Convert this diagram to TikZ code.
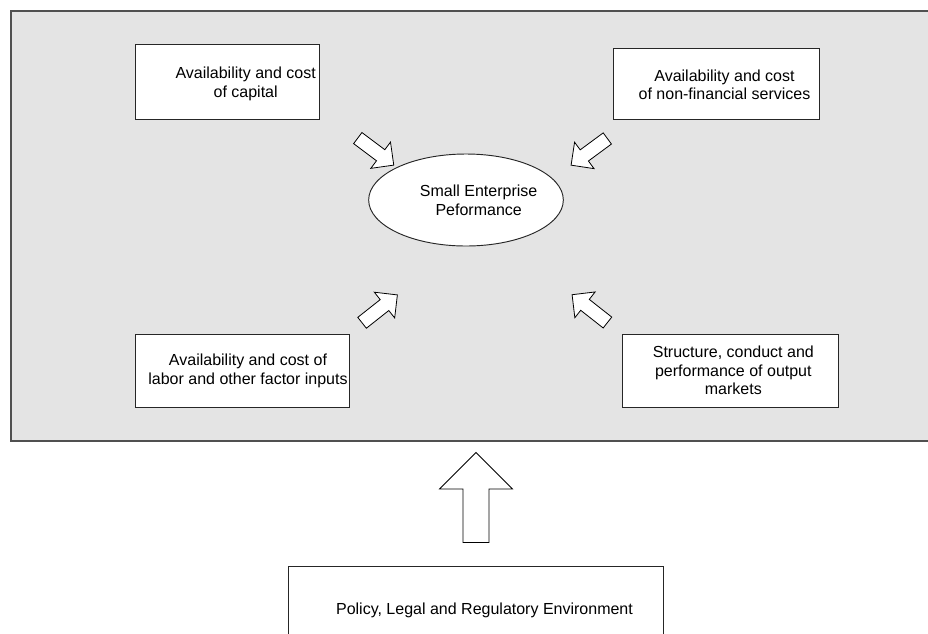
\documentclass[tikz,border=0pt]{standalone}
\usepackage{fontspec}
\setmainfont{Liberation Sans}
\usetikzlibrary{shapes.geometric, shapes.arrows, positioning}
\definecolor{panelgray}{RGB}{228, 228, 228}
\definecolor{framegray}{RGB}{80, 80, 80}

\tikzset{
  factor/.style={draw=black!85, fill=white, line width=0.7pt, inner sep=0pt},
  factortext/.style={align=center, font=\fontsize{12}{14}\selectfont},
  flowarrow/.style={draw=black, fill=white, line width=0.6pt, single arrow,
    single arrow head extend=7.1pt, inner xsep=0pt, inner ysep=4.9pt,
    minimum width=0pt, minimum height=33.75pt},
}

\begin{document}
\begin{tikzpicture}[x=0.75pt, y=-0.75pt]
  \path[use as bounding box, clip] (0,0) rectangle (928,633);
  \fill[white] (0,0) rectangle (928,633);

  % environment around the enterprise
  \draw[draw=framegray, fill=panelgray, line width=1.2pt] (11,11) rectangle (940,441);

  \node[factor, minimum width=138pt, minimum height=56.25pt,
    label={[factortext, xshift=14pt, yshift=-2pt]center:Availability and cost\\of capital}]
    (capital) at (227,81.5) {};
  \node[factor, minimum width=155pt, minimum height=53.25pt,
    label={[factortext, xshift=6pt, yshift=-1pt]center:Availability and cost\\of non-financial services}]
    (services) at (716.5,83.5) {};
  \node[factor, minimum width=160.5pt, minimum height=54.75pt,
    label={[factortext, xshift=4.5pt, yshift=-0.5pt]center:Availability and cost of\\labor and other factor inputs}]
    (labor) at (242,370.5) {};
  \node[factor, minimum width=162pt, minimum height=54.75pt,
    label={[factortext, xshift=2.5pt]center:Structure, conduct and\\performance of output\\markets}]
    (markets) at (730,370.5) {};

  \node[factor, ellipse, minimum width=146pt, minimum height=69pt,
    label={[factortext, xshift=9.5pt]center:Small Enterprise\\Peformance}]
    (performance) at (466,200) {};

  % block arrows towards the centre
  \node[flowarrow, rotate=-36.9] (capitalarrow) at (373,149.5) {};
  \node[flowarrow, rotate=216.4] (servicesarrow) at (592,149.75) {};
  \node[flowarrow, rotate=38.3] (laborarrow) at (377,311) {};
  \node[flowarrow, rotate=141.8] (marketsarrow) at (592.5,310.75) {};

  % policy box and its arrow
  \node[factor, minimum width=281.25pt, minimum height=66pt,
    label={[factortext, xshift=6.75pt]center:Policy, Legal and Regulatory Environment}]
    (policy) at (475.5,610) {};
  \node[flowarrow, rotate=90, single arrow head extend=17.6pt, inner ysep=9.4pt,
    minimum height=67.5pt] (policyarrow) at (476,504) {};
\end{tikzpicture}
\end{document}
